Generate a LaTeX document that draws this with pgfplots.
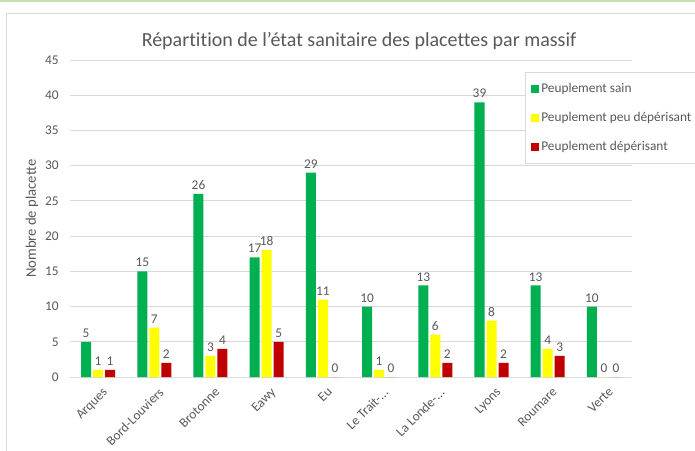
\documentclass[border=0pt]{standalone}
\usepackage{pgfplots}
\pgfplotsset{compat=1.18}
\usepackage{fontspec}
\setmainfont{Carlito}[Ligatures=NoCommon]
\definecolor{txt}{HTML}{595959}
\definecolor{grd}{HTML}{D9D9D9}
\definecolor{cg}{HTML}{00B050}
\definecolor{cy}{HTML}{FFFF00}
\definecolor{cr}{HTML}{C00000}
\newcommand{\dts}{.{}.{}.}
\begin{document}
\begin{tikzpicture}
\useasboundingbox (-52.5pt,-54.75pt) rectangle (468.75pt,282.75pt);
\fill[white] (-52.5pt,-54.75pt) rectangle (468.75pt,282.75pt);
\draw[color={rgb,255:red,198;green,224;blue,180}, line width=1pt] (-52.5pt,282pt) -- (468.75pt,282pt);
\draw[grd, line width=0.75pt] (-47.25pt,-60pt) -- (-47.25pt,272.25pt) -- (475pt,272.25pt);
\begin{axis}[
  scale only axis,
  width=421.5pt, height=237.75pt,
  ybar=1.5pt, bar width=7.5pt,
  xmin=-0.5, xmax=9.5, ymin=0, ymax=45,
  ytick={0,5,...,45},
  xtick={0,1,2,3,4,5,6,7,8,9},
  xticklabels={Arques,Bord-Louviers,Brotonne,Eawy,Eu,{Le Trait-\dts},{La Londe-\dts},Lyons,Roumare,Verte},
  major tick length=0pt,
  axis line style={draw=none},
  ymajorgrids, grid style={grd, line width=0.75pt},
  /pgf/number format/assume math mode=true,
  tick label style={font=\fontsize{10}{12}\selectfont, text=txt},
  yticklabel style={anchor=east, xshift=-5pt},
  xticklabel style={rotate=45, anchor=north east, inner sep=1pt, yshift=-6pt, xshift=-2pt},
  ylabel={Nombre de placette},
  every axis y label/.style={at={(axis description cs:0,0.5)}, xshift=-28.5pt, rotate=90, anchor=center, font=\fontsize{11}{13}\selectfont, text=txt},
  nodes near coords,
  every node near coord/.append style={font=\fontsize{10}{12}\selectfont, text=txt, inner sep=3pt},
  legend style={at={(axis description cs:0.8096,0.9621)}, anchor=north west, draw=grd, fill=white, font=\fontsize{10}{12}\selectfont, text=txt, row sep=9.5pt, inner xsep=4pt, inner ysep=6pt, legend cell align=left, /tikz/every even column/.append style={column sep=1pt}},
  legend image code/.code={\fill[#1] (0pt,-3pt) rectangle (6pt,3pt);},
]
\addplot[fill=cg, draw=none] coordinates {(0,5) (1,15) (2,26) (3,17) (4,29) (5,10) (6,13) (7,39) (8,13) (9,10)};
\addplot[fill=cy, draw=none] coordinates {(0,1) (1,7) (2,3) (3,18) (4,11) (5,1) (6,6) (7,8) (8,4) (9,0)};
\addplot[fill=cr, draw=none] coordinates {(0,1) (1,2) (2,4) (3,5) (4,0) (5,0) (6,2) (7,2) (8,3) (9,0)};
\legend{Peuplement sain, Peuplement peu dépérisant, Peuplement dépérisant}
\end{axis}
\node[text=txt, font=\fontsize{15}{18}\selectfont] at (216.75pt,252pt) {Répartition de l\char"0027\relax état sanitaire des placettes par massif};
\end{tikzpicture}
\end{document}
